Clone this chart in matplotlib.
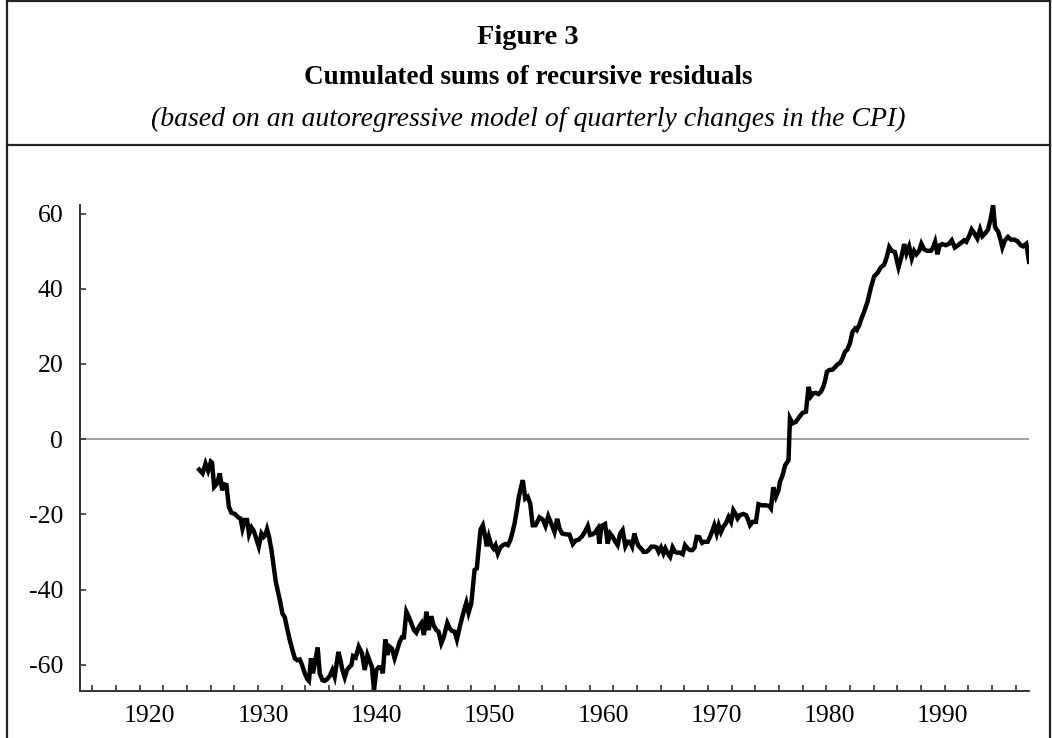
import matplotlib
matplotlib.use("Agg")
import matplotlib.pyplot as plt
from matplotlib.lines import Line2D
import numpy as np

years = [
    1924.35, 1924.65, 1924.91, 1925.14, 1925.38, 1925.49, 1925.67, 1925.93, 1926.17, 1926.38,
    1926.55, 1926.76, 1926.97, 1927.20, 1927.50, 1927.79, 1928.00, 1928.17, 1928.38, 1928.58,
    1928.75, 1928.97, 1929.17, 1929.34, 1929.61, 1929.85, 1930.05, 1930.20, 1930.34, 1930.52,
    1930.73, 1930.93, 1931.11, 1931.31, 1931.53, 1931.70, 1931.90, 1932.11, 1932.35, 1932.58,
    1932.79, 1932.99, 1933.23, 1933.43, 1933.67, 1933.87, 1934.04, 1934.22, 1934.40, 1934.61,
    1934.81, 1934.99, 1935.23, 1935.43, 1935.63, 1935.87, 1936.11, 1936.31, 1936.49, 1936.64,
    1936.82, 1936.99, 1937.20, 1937.40, 1937.58, 1937.79, 1937.93, 1938.17, 1938.43, 1938.72,
    1938.96, 1939.20, 1939.40, 1939.60, 1939.78, 1939.99, 1940.19, 1940.43, 1940.56, 1940.78,
    1940.95, 1941.16, 1941.36, 1941.60, 1941.84, 1942.05, 1942.25, 1942.42, 1942.64, 1942.86,
    1943.08, 1943.31, 1943.52, 1943.72, 1943.96, 1944.19, 1944.40, 1944.60, 1944.84, 1945.04,
    1945.28, 1945.48, 1945.72, 1945.95, 1946.25, 1946.46, 1946.66, 1946.90, 1947.10, 1947.34,
    1947.54, 1947.78, 1947.93, 1948.13, 1948.37, 1948.51, 1948.66, 1948.86, 1949.01, 1949.19,
    1949.39, 1949.54, 1949.74, 1949.92, 1950.13, 1950.34, 1950.51, 1950.71, 1950.93, 1951.16,
    1951.37, 1951.60, 1951.81, 1951.98, 1952.19, 1952.39, 1952.57, 1952.78, 1952.92, 1953.13,
    1953.35, 1953.57, 1953.79, 1954.04, 1954.24, 1954.39, 1954.68, 1954.92, 1955.16, 1955.42,
    1955.71, 1955.95, 1956.16, 1956.39, 1956.68, 1957.04, 1957.33, 1957.57, 1957.86, 1958.16,
    1958.39, 1958.65, 1958.86, 1959.09, 1959.33, 1959.53, 1959.68, 1959.86, 1960.18, 1960.41,
    1960.62, 1960.85, 1961.09, 1961.29, 1961.51, 1961.73, 1961.97, 1962.18, 1962.39, 1962.57,
    1962.77, 1962.97, 1963.15, 1963.36, 1963.59, 1963.80, 1964.03, 1964.26, 1964.51, 1964.73,
    1964.91, 1965.12, 1965.33, 1965.50, 1965.71, 1965.92, 1966.14, 1966.36, 1966.58, 1966.80,
    1967.03, 1967.24, 1967.47, 1967.68, 1967.90, 1968.08, 1968.26, 1968.50, 1968.74, 1968.94,
    1969.23, 1969.44, 1969.67, 1969.82, 1970.03, 1970.21, 1970.41, 1970.62, 1970.86, 1971.08,
    1971.30, 1971.50, 1971.68, 1971.88, 1972.09, 1972.38, 1972.62, 1972.76, 1972.97, 1973.20,
    1973.50, 1973.72, 1974.02, 1974.37, 1974.67, 1974.82, 1975.03, 1975.26, 1975.49, 1975.61,
    1975.85, 1976.08, 1976.29, 1976.37, 1976.50, 1976.72, 1977.02, 1977.32, 1977.61, 1977.91,
    1978.14, 1978.35, 1978.55, 1978.79, 1979.02, 1979.23, 1979.44, 1979.61, 1979.76, 1979.96,
    1980.25, 1980.49, 1980.70, 1980.93, 1981.14, 1981.35, 1981.58, 1981.79, 1982.02, 1982.24,
    1982.39, 1982.61, 1982.81, 1983.05, 1983.34, 1983.64, 1983.93, 1984.22, 1984.52, 1984.81,
    1985.04, 1985.26, 1985.48, 1985.76, 1986.08, 1986.34, 1986.58, 1986.78, 1987.02, 1987.25,
    1987.46, 1987.66, 1987.90, 1988.10, 1988.34, 1988.63, 1988.93, 1989.13, 1989.31, 1989.51,
    1989.73, 1989.95, 1990.25, 1990.55, 1990.78, 1991.05, 1991.34, 1991.58, 1991.87, 1992.07,
    1992.31, 1992.54, 1992.75, 1993.04, 1993.28, 1993.48, 1993.72, 1993.99, 1994.22, 1994.43,
    1994.60, 1994.89, 1995.10, 1995.25, 1995.48, 1995.75, 1995.99, 1996.28, 1996.57, 1996.87,
    1997.07, 1997.36, 1997.60,
]
cusum = [
    -8.1, -9.1, -6.5, -8.4, -6.0, -6.3, -12.7, -11.8, -9.1, -13.6,
    -12.0, -12.2, -18.0, -19.6, -19.9, -20.8, -21.1, -23.8, -21.5, -21.5,
    -25.3, -23.5, -24.4, -26.0, -28.6, -25.1, -26.0, -25.5, -24.0, -26.0,
    -29.5, -34.0, -37.9, -40.6, -43.7, -46.4, -47.3, -50.3, -53.5, -56.1,
    -58.3, -58.8, -58.6, -60.1, -62.3, -63.7, -64.3, -58.3, -62.3, -58.8,
    -55.4, -62.3, -64.1, -64.3, -63.9, -63.0, -61.4, -63.2, -59.7, -56.6,
    -58.8, -61.4, -63.4, -61.4, -60.7, -60.1, -57.7, -58.1, -55.2, -57.0,
    -61.4, -57.4, -59.0, -60.6, -66.8, -61.4, -60.7, -60.7, -62.3, -53.3,
    -57.4, -55.2, -55.7, -58.3, -55.9, -53.9, -52.7, -52.7, -45.9, -47.3,
    -49.0, -50.8, -51.5, -50.1, -49.0, -52.1, -45.9, -50.8, -47.1, -49.5,
    -50.8, -51.2, -54.3, -52.6, -48.9, -50.3, -51.0, -51.2, -53.3, -50.1,
    -47.7, -45.0, -43.5, -46.2, -43.7, -39.3, -34.8, -34.4, -29.5, -24.0,
    -22.9, -25.1, -28.5, -26.0, -28.2, -29.1, -28.2, -30.4, -28.8, -28.2,
    -27.9, -28.2, -26.9, -25.1, -22.4, -18.9, -15.3, -12.5, -10.9, -15.8,
    -15.3, -17.1, -22.9, -22.9, -21.7, -20.8, -21.4, -23.1, -20.5, -22.4,
    -24.7, -21.2, -23.8, -25.1, -25.3, -25.4, -27.9, -27.0, -26.7, -25.8,
    -24.7, -23.1, -25.5, -25.3, -24.7, -23.8, -27.8, -23.1, -22.6, -27.8,
    -25.1, -26.0, -27.3, -28.2, -25.1, -24.2, -28.5, -27.3, -27.3, -28.5,
    -25.1, -27.3, -28.5, -29.1, -30.0, -30.0, -29.5, -28.6, -28.6, -28.8,
    -30.0, -28.8, -30.4, -29.1, -30.4, -31.3, -28.8, -30.0, -30.2, -30.2,
    -30.6, -28.2, -29.1, -29.5, -29.5, -28.8, -26.0, -26.1, -27.6, -27.3,
    -27.3, -26.0, -24.2, -22.9, -25.1, -22.9, -24.7, -23.3, -22.3, -20.7,
    -22.0, -18.9, -19.8, -21.1, -20.2, -19.9, -20.2, -21.1, -22.9, -22.0,
    -22.0, -17.3, -17.6, -17.6, -17.8, -18.4, -12.8, -15.3, -13.6, -11.4,
    -9.6, -6.9, -6.0, -5.6, 5.5, 4.2, 4.6, 5.9, 7.0, 7.3,
    13.9, 11.4, 12.2, 12.3, 12.0, 12.6, 13.9, 15.7, 17.9, 18.4,
    18.5, 19.2, 19.9, 20.3, 21.5, 23.2, 23.9, 25.5, 28.5, 29.4,
    29.0, 30.3, 32.1, 33.9, 36.5, 40.3, 43.3, 44.2, 45.7, 46.4,
    48.4, 51.1, 50.1, 49.8, 45.7, 48.5, 51.9, 49.4, 51.3, 48.1,
    50.1, 49.2, 50.1, 52.0, 50.5, 50.1, 50.1, 51.0, 52.5, 49.2,
    51.6, 51.9, 51.6, 52.0, 52.9, 51.0, 51.6, 52.2, 52.9, 52.5,
    54.0, 55.8, 54.9, 53.4, 55.8, 54.0, 54.7, 55.8, 58.7, 62.2,
    56.5, 55.1, 52.9, 51.0, 52.9, 53.8, 53.1, 53.1, 52.7, 51.6,
    51.3, 52.0, 47.2,
]

decades = [1920, 1930, 1940, 1950, 1960, 1970, 1980, 1990]
y_ticks = [-60, -40, -20, 0, 20, 40, 60]

plt.rcParams['font.family'] = ['Liberation Serif', 'DejaVu Serif']
plt.rcParams['axes.unicode_minus'] = False

fig = plt.figure(figsize=(10.52, 7.38), dpi=100)

# outer frame and header separator (figure pixel coords)
W, H = 1052, 738
def fx(px):
    return px / W
def fy(py):
    return 1 - py / H
frame_kw = dict(color='#222222', linewidth=1.6, transform=fig.transFigure)
fig.lines.append(Line2D([fx(7), fx(7)], [0, fy(1)], **frame_kw))
fig.lines.append(Line2D([fx(1050), fx(1050)], [0, fy(1)], **frame_kw))
fig.lines.append(Line2D([fx(7), fx(1050)], [fy(1), fy(1)], **frame_kw))
fig.lines.append(Line2D([fx(7), fx(1050)], [fy(145), fy(145)], **frame_kw))

fig.text(0.502, fy(38), 'Figure 3', ha='center', va='center',
         fontsize=20.5, fontweight='bold')
fig.text(0.502, fy(77), 'Cumulated sums of recursive residuals', ha='center',
         va='center', fontsize=19.5, fontweight='bold')
fig.text(0.502, fy(119), '(based on an autoregressive model of quarterly changes in the CPI)',
         ha='center', va='center', fontsize=20, style='italic')

ax = fig.add_axes([fx(80), fy(691), fx(1029) - fx(80), fy(205) - fy(691)])
ax.plot(years, cusum, color='black', linewidth=3.2, solid_joinstyle='miter')
ax.axhline(0, color='#999999', linewidth=1.3, zorder=0)

ax.set_xlim(1913.83, 1997.6)
ax.set_ylim(-67.0, 62.3)

ax.set_xticks(decades)
ax.set_xticks(np.arange(1914.92, 1997.5, 2.09), minor=True)
ax.set_yticks(y_ticks)
ax.tick_params(axis='x', which='major', length=0, pad=10, labelsize=18.5)
ax.tick_params(axis='x', which='minor', direction='in', length=4, width=1.2, color='#333333')
ax.tick_params(axis='y', direction='in', length=4, width=1.2, color='#333333',
               pad=12, labelsize=18.5)

for side in ['top', 'right']:
    ax.spines[side].set_visible(False)
for side in ['left', 'bottom']:
    ax.spines[side].set_color('#333333')
    ax.spines[side].set_linewidth(1.4)

plt.savefig('out.png', dpi=100)
